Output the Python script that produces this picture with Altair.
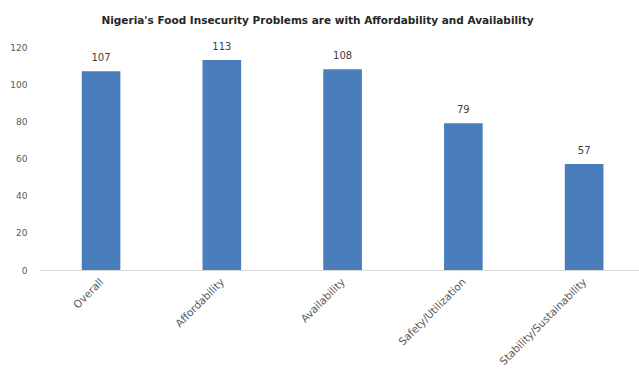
import altair as alt
import pandas as pd

# Food insecurity scores by pillar
categories = ["Overall", "Affordability", "Availability", "Safety/Utilization", "Stability/Sustainability"]
scores = [107, 113, 108, 79, 57]

df = pd.DataFrame({"pillar": categories, "score": scores})

FONT = "DejaVu Sans"

base = alt.Chart(df).encode(
    x=alt.X(
        "pillar:N",
        sort=categories,
        scale=alt.Scale(paddingInner=0.68, paddingOuter=0.32, align=0.54),
        axis=alt.Axis(
            title=None,
            labelAngle=315,
            labelAlign="right",
            labelBaseline="middle",
            labelFontSize=10.5,
            labelColor="#595959",
            labelFont=FONT,
            labelOffset=1,
            labelPadding=10,
            ticks=False,
            grid=False,
            domainColor="#d9d9d9",
            domainWidth=1,
        ),
    ),
    y=alt.Y(
        "score:Q",
        scale=alt.Scale(domain=[0, 120]),
        axis=alt.Axis(
            title=None,
            values=[0, 20, 40, 60, 80, 100, 120],
            labelFontSize=9,
            labelColor="#595959",
            labelFont=FONT,
            labelPadding=13,
            ticks=False,
            domain=False,
            grid=False,
        ),
    ),
)

bars = base.mark_bar(color="#4a7ebb")
labels = base.mark_text(dy=-13, fontSize=10, color="#404040", font=FONT).encode(text="score:Q")

chart = (
    (bars + labels)
    .properties(
        width=599,
        height=223,
        background="white",
        autosize=alt.AutoSizeParams(type="none"),
        padding={"left": 40, "top": 47, "right": 0, "bottom": 108},
        title=alt.TitleParams(
            "Nigeria's Food Insecurity Problems are with Affordability and Availability",
            fontSize=10.5,
            font=FONT,
            fontWeight="bold",
            color="#262626",
            anchor="middle",
            dx=-22,
            offset=16,
        ),
    )
    .configure_view(strokeWidth=0, stroke="transparent")
)

chart.save("out.html", embed_options={"renderer": "svg", "actions": False})
